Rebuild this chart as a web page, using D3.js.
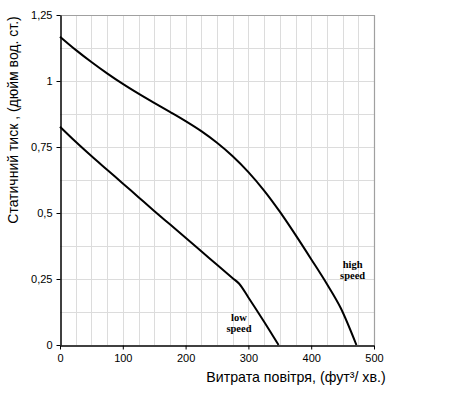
<!DOCTYPE html>
<html><head><meta charset="utf-8">
<script src="https://cdn.jsdelivr.net/npm/d3@7"></script>
<style>body{margin:0;background:#fff}svg{display:block}</style>
</head><body>
<svg id="c" width="450" height="394"></svg>
<script>
const xTicks = [0,100,200,300,400,500];
const yTicks = [0,0.25,0.5,0.75,1,1.25];
const highSpeed = [[0,1.168],[25,1.118],[50,1.072],[75,1.029],[100,0.989],[125,0.952],[150,0.917],[175,0.883],[200,0.848],[225,0.810],[250,0.766],[275,0.715],[300,0.655],[325,0.585],[350,0.505],[375,0.417],[400,0.325],[425,0.231],[447,0.14],[472,0]];
const lowSpeed = [[0,0.827],[25,0.77],[50,0.716],[75,0.664],[100,0.612],[125,0.56],[150,0.508],[175,0.457],[200,0.406],[225,0.355],[250,0.304],[275,0.253],[285,0.233],[300,0.18],[325,0.088],[348,0]];
const labels = [{t:["high","speed"], x:466, y:0.29},{t:["low","speed"], x:285, y:0.092}];

const svg = d3.select("#c");
const x = d3.scaleLinear().domain([0,500]).range([60,374]);
const y = d3.scaleLinear().domain([0,1.25]).range([345,15]);
const fmt = d => String(d).replace(".", ",");

// grid
const g = svg.append("g");
g.selectAll(".vg").data(d3.range(25,500,25)).join("line")
  .attr("x1",d=>Math.round(x(d))+0.5).attr("x2",d=>Math.round(x(d))+0.5)
  .attr("y1",y(0)).attr("y2",y(1.25)).attr("stroke","#dcdcdc").attr("stroke-width",1);
g.selectAll(".hg").data(d3.range(0.125,1.25,0.125)).join("line")
  .attr("y1",d=>Math.round(y(d))+0.5).attr("y2",d=>Math.round(y(d))+0.5)
  .attr("x1",x(0)).attr("x2",x(500)).attr("stroke","#dcdcdc").attr("stroke-width",1);
// top/right border
svg.append("path").attr("d",`M${x(0)},${Math.round(y(1.25))+0.5}H${Math.round(x(500))+0.5}V${y(0)}`)
  .attr("fill","none").attr("stroke","#a0a0a0").attr("stroke-width",1.2);

// axes
const xa = svg.append("g").attr("transform",`translate(0,${Math.round(y(0))+0.5})`)
  .call(d3.axisBottom(x).tickValues(xTicks).tickSize(4).tickSizeOuter(0).tickFormat(d=>d));
const ya = svg.append("g").attr("transform",`translate(${Math.round(x(0))+0.5},0)`)
  .call(d3.axisLeft(y).tickValues(yTicks).tickSize(4).tickSizeOuter(0).tickFormat(fmt));
[xa,ya].forEach(a=>{
  a.select(".domain").attr("stroke","#000").attr("stroke-width",1.5);
  a.selectAll(".tick line").attr("stroke","#000");
  a.selectAll("text").attr("font-family","Liberation Sans, Arial, sans-serif").attr("font-size",11).attr("fill","#000");
});
xa.selectAll("text").attr("dy","0.9em");
ya.selectAll("text").attr("x",-8);

// curves
const line = d3.line().x(d=>x(d[0])).y(d=>y(d[1])).curve(d3.curveMonotoneX);
[highSpeed,lowSpeed].forEach(s=>{
  svg.append("path").datum(s).attr("d",line).attr("fill","none")
    .attr("stroke","#000").attr("stroke-width",2);
});

// curve labels
labels.forEach(l=>{
  const t = svg.append("text").attr("x",x(l.x)).attr("y",y(l.y))
    .attr("text-anchor","middle").attr("font-family","Liberation Serif, Times New Roman, serif")
    .attr("font-weight","bold").attr("font-size",10.5);
  l.t.forEach((s,i)=>t.append("tspan").attr("x",x(l.x)).attr("dy",i?"1.05em":0).text(s));
});

// axis titles
svg.append("text").attr("x",296).attr("y",382).attr("text-anchor","middle")
  .attr("font-family","Liberation Sans, Arial, sans-serif").attr("font-size",14.2)
  .text("Витрата повітря, (фут³/ хв.)");
svg.append("text").attr("transform","translate(18,120) rotate(-90)").attr("text-anchor","middle")
  .attr("font-family","Liberation Sans, Arial, sans-serif").attr("font-size",14)
  .text("Статичний тиск , (дюйм вод. ст.)");
</script>
</body></html>
